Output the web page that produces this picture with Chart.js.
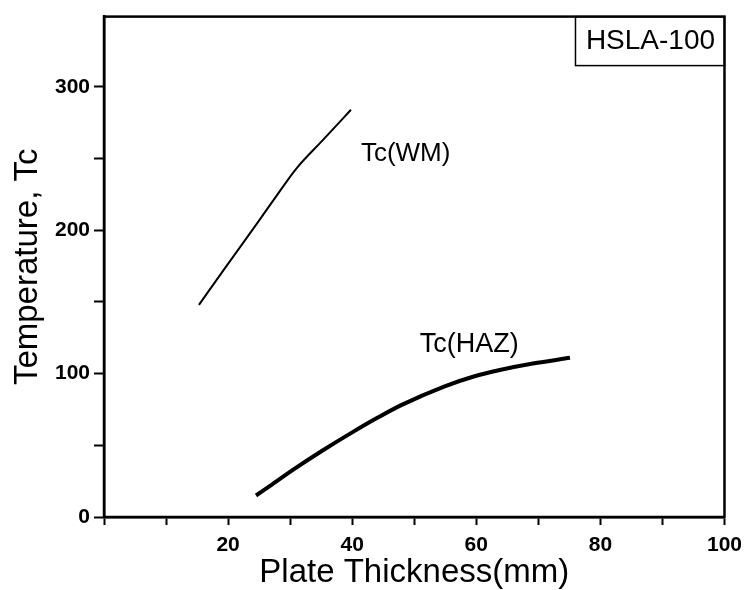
<!DOCTYPE html>
<html lang="en">
<head>
  <meta charset="UTF-8" />
  <title>HSLA-100 Tc vs plate thickness</title>
  <script src="https://cdn.jsdelivr.net/npm/chart.js"></script>
  <style>
    body { margin: 0; background: #fff; }
    .wrap { width: 750px; height: 590px; }
  </style>
</head>
<body>
  <div class="wrap"><canvas id="tcChart"></canvas></div>

  <script>
    // Tc(WM) curve
    const wmThickness = [15.3, 19.9, 24.7, 27.8, 31.0, 35.3, 39.8];
    const wmTemp      = [148, 176, 205, 224, 243, 263, 284];

    // Tc(HAZ) curve
    const hazThickness = [24.5, 26.7, 30.5, 35.1, 40.0, 44.2, 47.9, 54.8, 59.6, 63.8, 69.1, 75.1];
    const hazTemp      = [15, 21.5, 33, 46, 59, 69.5, 78, 91, 98, 102.5, 107, 111];

    // tick positions and the ones that get a number
    const xTicks = [0, 10, 20, 30, 40, 50, 60, 70, 80, 90, 100];
    const xTickLabels = [20, 40, 60, 80, 100];
    const yTicks = [0, 50, 100, 150, 200, 250, 300];
    const yTickLabels = [0, 100, 200, 300];

    const toPoints = (xs, ys) => xs.map((x, i) => ({ x: x, y: ys[i] }));

    const FONT = '"Liberation Sans", Arial, sans-serif';

    // frame box, material tag and curve labels
    const extras = {
      id: 'extras',
      afterDraw(chart) {
        const { ctx, chartArea: a, scales } = chart;
        ctx.save();
        ctx.strokeStyle = '#000';
        ctx.lineWidth = 2.5;
        ctx.strokeRect(a.left, a.top, a.right - a.left, a.bottom - a.top);

        // HSLA-100 tag in the top right corner
        ctx.lineWidth = 1.5;
        ctx.strokeRect(a.right - 149, a.top, 149, 49);
        ctx.fillStyle = '#000';
        ctx.font = '28px ' + FONT;
        ctx.textAlign = 'center';
        ctx.textBaseline = 'middle';
        ctx.fillText('HSLA-100', a.right - 74, a.top + 25);

        // curve names
        ctx.textAlign = 'left';
        ctx.textBaseline = 'alphabetic';
        ctx.font = '26px ' + FONT;
        ctx.fillText('Tc(WM)', scales.x.getPixelForValue(41.4), scales.y.getPixelForValue(248));
        ctx.font = '27px ' + FONT;
        ctx.fillText('Tc(HAZ)', scales.x.getPixelForValue(50.9), scales.y.getPixelForValue(115));
        ctx.restore();
      }
    };

    new Chart(document.getElementById('tcChart'), {
      type: 'scatter',
      data: {
        datasets: [
          {
            label: 'Tc(WM)',
            data: toPoints(wmThickness, wmTemp),
            showLine: true,
            borderColor: '#000',
            borderWidth: 2,
            pointRadius: 0,
            cubicInterpolationMode: 'monotone'
          },
          {
            label: 'Tc(HAZ)',
            data: toPoints(hazThickness, hazTemp),
            showLine: true,
            borderColor: '#000',
            borderWidth: 4,
            pointRadius: 0,
            cubicInterpolationMode: 'monotone'
          }
        ]
      },
      options: {
        responsive: true,
        maintainAspectRatio: false,
        animation: false,
        layout: { padding: { top: 13, right: 16, left: 0, bottom: 0 } },
        plugins: { legend: { display: false }, tooltip: { enabled: false } },
        scales: {
          x: {
            type: 'linear',
            min: 0,
            max: 100,
            afterFit: s => { s.height = 73; },
            afterBuildTicks: s => { s.ticks = xTicks.map(v => ({ value: v })); },
            border: { display: true, color: '#000', width: 2.5 },
            grid: { drawOnChartArea: false, tickLength: 8, tickWidth: 2, tickColor: '#000' },
            ticks: {
              maxRotation: 0,
              autoSkip: false,
              padding: 8,
              color: '#000',
              font: { family: FONT, size: 21, weight: 'bold' },
              callback: v => xTickLabels.includes(v) ? v : ''
            },
            title: {
              display: true,
              text: 'Plate Thickness(mm)',
              color: '#000',
              font: { family: FONT, size: 33, lineHeight: 1 },
              padding: { top: 0, bottom: 1 }
            }
          },
          y: {
            type: 'linear',
            min: 0,
            max: 349,
            afterFit: s => { s.width = 104; },
            afterBuildTicks: s => { s.ticks = yTicks.map(v => ({ value: v })); },
            border: { display: true, color: '#000', width: 2.5 },
            grid: { drawOnChartArea: false, tickLength: 10, tickWidth: 2, tickColor: '#000' },
            ticks: {
              autoSkip: false,
              padding: 4,
              color: '#000',
              font: { family: FONT, size: 21, weight: 'bold' },
              callback: v => yTickLabels.includes(v) ? v : ''
            },
            title: {
              display: true,
              text: 'Temperature, Tc',
              color: '#000',
              font: { family: FONT, size: 33, lineHeight: 1 },
              padding: { top: 11, bottom: 0 }
            }
          }
        }
      },
      plugins: [extras]
    });
  </script>
</body>
</html>
